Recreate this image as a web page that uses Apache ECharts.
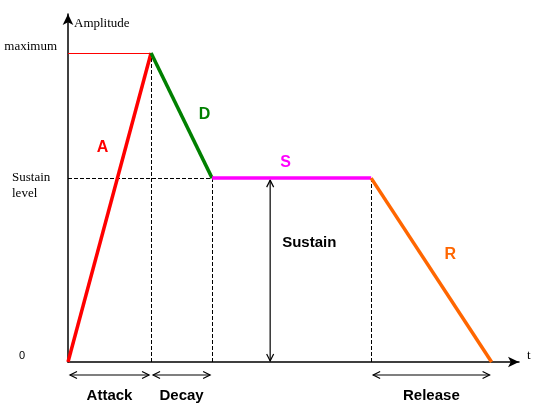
<!DOCTYPE html>
<html>
<head>
<meta charset="utf-8">
<script src="https://cdn.jsdelivr.net/npm/echarts@6/dist/echarts.min.js"></script>
<style>html,body{margin:0;padding:0;background:#fff}#c{width:540px;height:420px}</style>
</head>
<body>
<div id="c"></div>
<script>
// ADSR envelope breakpoints (time, amplitude)
const times = [0, 1.0, 1.735, 3.65, 5.10];
const levels = [0, 1.0, 0.595, 0.595, 0];
const segNames = ['A', 'D', 'S', 'R'];
const segColors = ['#ff0000', '#008000', '#ff00ff', '#ff6600'];
const phaseLabels = ['Attack', 'Decay', 'Release'];
const yTickValues = [1.0, 0.595, 0];
const yTickLabels = ['maximum', 'Sustain\nlevel', '0'];
const sustainArrowTime = 2.434;
const xMax = 5.43, yMax = 1.126;

(function () {
const chart = echarts.init(document.getElementById('c'), null, {renderer: 'canvas'});

const segSeries = segNames.map((n, i) => ({
  type: 'line', name: n, symbol: 'none', silent: true,
  lineStyle: {color: segColors[i], width: 3.5},
  data: [[times[i], levels[i]], [times[i + 1], levels[i + 1]]],
  z: 5
}));

const dashed = {type: 'dashed', color: '#000', width: 1, dashOffset: 0};
const guideSeries = {
  type: 'line', data: [], silent: true,
  markLine: {
    silent: true, symbol: 'none', animation: false, label: {show: false},
    data: [
      [{coord: [0, levels[1]], lineStyle: {type: 'solid', color: '#ff0000', width: 1}}, {coord: [times[1], levels[1]]}],
      [{coord: [0, levels[2]], lineStyle: dashed}, {coord: [times[2], levels[2]]}],
      [{coord: [times[1], 0], lineStyle: dashed}, {coord: [times[1], levels[1]]}],
      [{coord: [times[2], 0], lineStyle: dashed}, {coord: [times[2], levels[2]]}],
      [{coord: [times[3], 0], lineStyle: dashed}, {coord: [times[3], levels[3]]}]
    ]
  }
};

chart.setOption({
  animation: false,
  backgroundColor: '#fff',
  grid: {left: 68, right: 21, top: 14, bottom: 58},
  xAxis: {
    type: 'value', min: 0, max: xMax,
    axisLine: {show: true, onZero: false, lineStyle: {color: '#000', width: 1.5}, symbol: ['none', 'arrow'], symbolSize: [8, 11]},
    axisTick: {show: false}, axisLabel: {show: false}, splitLine: {show: false}
  },
  yAxis: {
    type: 'value', min: 0, max: yMax,
    axisLine: {show: true, onZero: false, lineStyle: {color: '#000', width: 1.5}, symbol: ['none', 'arrow'], symbolSize: [8, 11]},
    axisTick: {show: false}, axisLabel: {show: false}, splitLine: {show: false}
  },
  series: segSeries.concat([guideSeries])
});

// annotations placed via the chart's own coordinate conversion
const px = (x, y) => chart.convertToPixel({gridIndex: 0}, [x, y]);
const serif = '"Liberation Serif", "DejaVu Serif", serif';
const sans = '"Liberation Sans", Arial, sans-serif';
const g = [];
const o = px(0, 0);

// double-headed arrows with open chevron heads
const ink = {stroke: '#000', lineWidth: 1.2, fill: null};
function dblArrow(p1, p2) {
  const dx = p2[0] - p1[0], dy = p2[1] - p1[1];
  const L = Math.hypot(dx, dy), ux = dx / L, uy = dy / L, nx = -uy, ny = ux;
  const hl = 7, hw = 3.5;
  g.push({type: 'line', shape: {x1: p1[0], y1: p1[1], x2: p2[0], y2: p2[1]}, style: ink, silent: true});
  [[p1, 1], [p2, -1]].forEach(([p, s]) => {
    g.push({type: 'polyline', silent: true, style: ink, shape: {points: [
      [p[0] + s * ux * hl + nx * hw, p[1] + s * uy * hl + ny * hw],
      [p[0], p[1]],
      [p[0] + s * ux * hl - nx * hw, p[1] + s * uy * hl - ny * hw]
    ]}});
  });
}
const arrowDrop = 13; // px below the time axis
const phaseSpans = [[times[0], times[1]], [times[1], times[2]], [times[3], times[4]]];
phaseSpans.forEach(([a, b]) => {
  const pa = px(a, 0), pb = px(b, 0);
  dblArrow([pa[0] + 2, pa[1] + arrowDrop], [pb[0] - 2, pb[1] + arrowDrop]);
});
const sA = px(sustainArrowTime, 0), sB = px(sustainArrowTime, levels[2]);
dblArrow([sA[0], sA[1] - 1], [sB[0], sB[1] + 2]);

const pMax = px(0, yTickValues[0]);
const pSus = px(0, yTickValues[1]);
g.push({type: 'text', x: o[0] - 11, y: pMax[1] - 6, style: {text: yTickLabels[0], font: '13px ' + serif, fill: '#000', textAlign: 'right', textVerticalAlign: 'middle'}});
g.push({type: 'text', x: 12, y: pSus[1] + 7, style: {text: yTickLabels[1], font: '13px ' + serif, fill: '#000', textAlign: 'left', textVerticalAlign: 'middle', lineHeight: 16}});
g.push({type: 'text', x: o[0] - 46, y: o[1] - 6, style: {text: yTickLabels[2], font: '11px ' + sans, fill: '#000', textAlign: 'center', textVerticalAlign: 'middle'}});
const topPt = px(0, yMax);
g.push({type: 'text', x: o[0] + 6, y: topPt[1] + 10, style: {text: 'Amplitude', font: '13px ' + serif, fill: '#000', textAlign: 'left', textVerticalAlign: 'middle'}});
const rgt = px(xMax, 0);
g.push({type: 'text', x: rgt[0] + 8, y: o[1] - 6, style: {text: 't', font: '13px ' + serif, fill: '#000', textAlign: 'left', textVerticalAlign: 'middle'}});
// phase labels below axis
phaseLabels.forEach((t, i) => {
  const a = px((phaseSpans[i][0] + phaseSpans[i][1]) / 2, 0);
  g.push({type: 'text', x: a[0], y: o[1] + 34, style: {text: t, font: 'bold 15px ' + sans, fill: '#000', textAlign: 'center', textVerticalAlign: 'middle'}});
});
// Sustain label
const sp = px(sustainArrowTime, levels[2] / 2);
g.push({type: 'text', x: sp[0] + 12, y: sp[1] - 27, style: {text: 'Sustain', font: 'bold 15px ' + sans, fill: '#000', textAlign: 'left', textVerticalAlign: 'middle'}});
// segment letters
const letterOffsets = [[-7, -60], [23, -1], [-6, -16], [19, -15]];
segNames.forEach((n, i) => {
  const m = px((times[i] + times[i + 1]) / 2, (levels[i] + levels[i + 1]) / 2);
  g.push({type: 'text', x: m[0] + letterOffsets[i][0], y: m[1] + letterOffsets[i][1], style: {text: n, font: 'bold 16px ' + sans, fill: segColors[i], textAlign: 'center', textVerticalAlign: 'middle'}});
});
chart.setOption({graphic: g});
})();
</script>
</body>
</html>
